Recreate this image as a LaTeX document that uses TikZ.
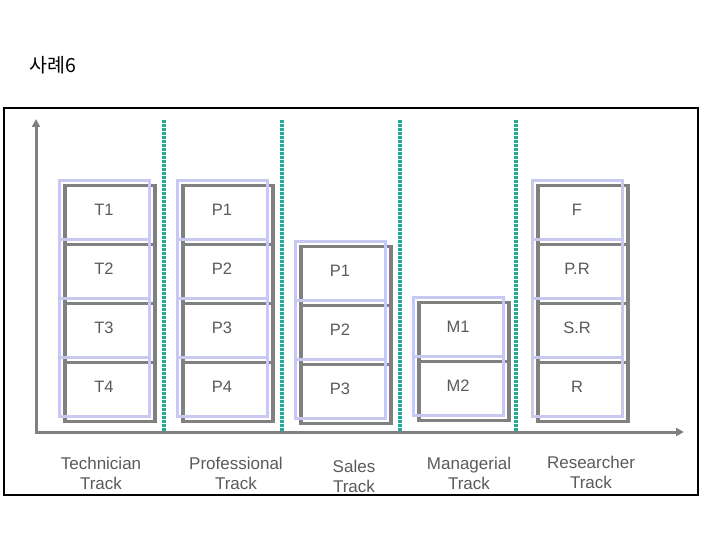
\documentclass[tikz,border=0pt]{standalone}
\usepackage{fontspec}
\setmainfont{Liberation Sans}
\newfontfamily\krfont{Noto Sans CJK KR}
\usepackage{xcolor}
\usetikzlibrary{arrows,arrows.meta}
\usetikzlibrary{backgrounds}

\definecolor{lav}{RGB}{200,200,240}
\definecolor{boxgray}{RGB}{128,128,128}
\definecolor{txtgray}{RGB}{90,90,90}
\definecolor{dotteal}{RGB}{35,170,150}

\tikzset{
  cell/.style={draw=lav, line width=3pt, minimum width=90pt, minimum height=59pt,
    inner sep=0pt, outer sep=0pt, text=txtgray, font=\fontsize{16.5}{18}\selectfont},
  track/.style={text=txtgray, align=center, font=\fontsize{17}{20}\selectfont},
  sepline/.style={dotteal, line width=3.2pt, dash pattern=on 2.6pt off 1.4pt},
  axis/.style={boxgray, line width=3pt, {Triangle[length=8pt,width=8pt]}-{Triangle[length=8pt,width=8pt]}},
  backbox/.style={boxgray, line width=3.5pt}
}

\begin{document}
\begin{tikzpicture}[x=1pt,y=-1pt]
            \useasboundingbox (0,0) rectangle (720,540);

            % Title and frame
            \node[anchor=west, font=\krfont\fontsize{19.5}{22}\selectfont] (title) at (26,65) {사례6};
            \draw[line width=2pt] (4,108) rectangle (698,495);

            % Axes
            \coordinate (o) at (36,432);
            \coordinate (ytip) at (36,119);
            \coordinate (xtip) at (684,432);
            \draw[axis] (ytip) -- (o) -- (xtip);

            % Dotted separators between tracks
            \foreach \x in {164,282,400,516}
                \draw[sepline] (\x,120) -- (\x,432);

            % Technician
            \node[cell] (t1) at (104,210) {T1};
            \node[cell] (t2) at (104,269) {T2};
            \node[cell] (t3) at (104,328) {T3};
            \node[cell] (t4) at (104,387) {T4};
            % Professional
            \node[cell] (p1) at (222,210) {P1};
            \node[cell] (p2) at (222,269) {P2};
            \node[cell] (p3) at (222,328) {P3};
            \node[cell] (p4) at (222,387) {P4};
            % Sales
            \node[cell] (s1) at (340,271) {P1};
            \node[cell] (s2) at (340,330) {P2};
            \node[cell] (s3) at (340,389) {P3};
            % Managerial
            \node[cell] (m1) at (458,327) {M1};
            \node[cell] (m2) at (458,386) {M2};
            % Researcher
            \node[cell] (f)  at (577,210) {F};
            \node[cell] (pr) at (577,269) {P.R};
            \node[cell] (sr) at (577,328) {S.R};
            \node[cell] (r)  at (577,387) {R};

            % Gray boxes behind
            \begin{scope}[on background layer]
                \foreach \n in {t1,t2,t3,t4,p1,p2,p3,p4,s1,s2,s3,m1,m2,f,pr,sr,r}
                    \draw[backbox] ([shift={(6,5)}]\n.north west) rectangle ([shift={(6,5)}]\n.south east);
            \end{scope}

            % Track names
            \node[track] (tech)  at (101,473) {Technician\\Track};
            \node[track] (prof)  at (236,473) {Professional\\Track};
            \node[track] (sales) at (354,476) {Sales\\Track};
            \node[track] (mgr)   at (469,473) {Managerial\\Track};
            \node[track] (res)   at (591,472) {Researcher\\Track};
        \end{tikzpicture}
\end{document}
